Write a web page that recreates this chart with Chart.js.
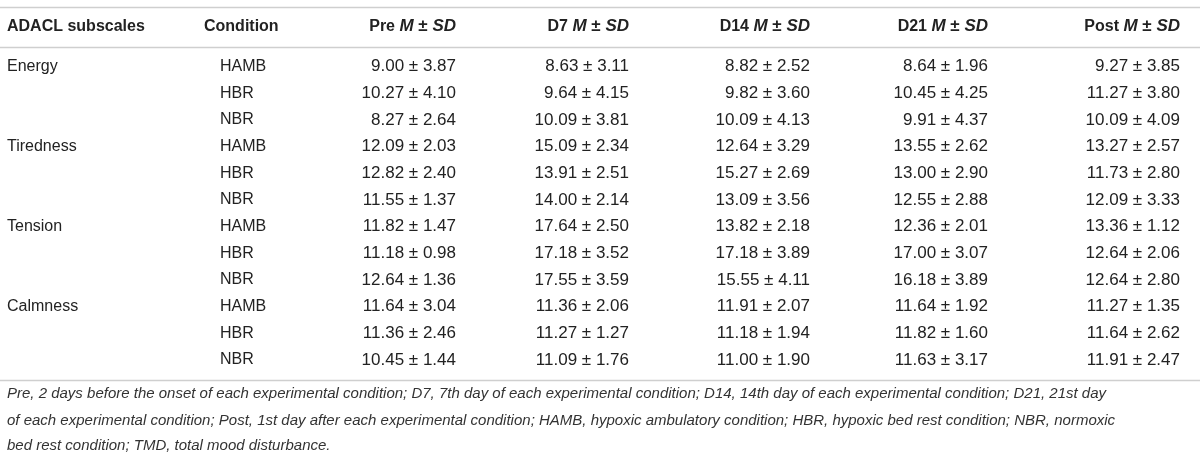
<!DOCTYPE html>
<html>
<head>
<meta charset="utf-8">
<script src="https://cdn.jsdelivr.net/npm/chart.js@4.4.1/dist/chart.umd.min.js"></script>
<style>
  html, body { margin: 0; padding: 0; background: #fff; }
  #wrap { width: 1200px; height: 452px; position: relative; }
</style>
</head>
<body>
<div id="wrap"><canvas id="tableChart"></canvas></div>
<script>
// table content
const subscales = ['Energy', 'Tiredness', 'Tension', 'Calmness'];
const conditions = ['HAMB', 'HBR', 'NBR'];
const timepoints = ['Pre', 'D7', 'D14', 'D21', 'Post'];

// rows: Energy HAMB/HBR/NBR, Tiredness ..., Tension ..., Calmness ...
const preMean  = [9.00, 10.27, 8.27, 12.09, 12.82, 11.55, 11.82, 11.18, 12.64, 11.64, 11.36, 10.45];
const preSD    = [3.87, 4.10, 2.64, 2.03, 2.40, 1.37, 1.47, 0.98, 1.36, 3.04, 2.46, 1.44];
const d7Mean   = [8.63, 9.64, 10.09, 15.09, 13.91, 14.00, 17.64, 17.18, 17.55, 11.36, 11.27, 11.09];
const d7SD     = [3.11, 4.15, 3.81, 2.34, 2.51, 2.14, 2.50, 3.52, 3.59, 2.06, 1.27, 1.76];
const d14Mean  = [8.82, 9.82, 10.09, 12.64, 15.27, 13.09, 13.82, 17.18, 15.55, 11.91, 11.18, 11.00];
const d14SD    = [2.52, 3.60, 4.13, 3.29, 2.69, 3.56, 2.18, 3.89, 4.11, 2.07, 1.94, 1.90];
const d21Mean  = [8.64, 10.45, 9.91, 13.55, 13.00, 12.55, 12.36, 17.00, 16.18, 11.64, 11.82, 11.63];
const d21SD    = [1.96, 4.25, 4.37, 2.62, 2.90, 2.88, 2.01, 3.07, 3.89, 1.92, 1.60, 3.17];
const postMean = [9.27, 11.27, 10.09, 13.27, 11.73, 12.09, 13.36, 12.64, 12.64, 11.27, 11.64, 11.91];
const postSD   = [3.85, 3.80, 4.09, 2.57, 2.80, 3.33, 1.12, 2.06, 2.80, 1.35, 2.62, 2.47];

const footnote = [
    'Pre, 2 days before the onset of each experimental condition; D7, 7th day of each experimental condition; D14, 14th day of each experimental condition; D21, 21st day',
    'of each experimental condition; Post, 1st day after each experimental condition; HAMB, hypoxic ambulatory condition; HBR, hypoxic bed rest condition; NBR, normoxic',
    'bed rest condition; TMD, total mood disturbance.'
];

// layout (x anchors in scale units, one per column)
const colAnchor = [7, 220, 456, 629, 810, 988, 1180];
const colAlign = ['left', 'left', 'right', 'right', 'right', 'right', 'right'];
const headerRow = -1.5;
const ruleRows = [-2.24, -0.74, 11.75];
const noteRows = [12.27, 13.27, 14.22];

const FONT = '"Liberation Sans", Arial, sans-serif';
const TEXT = '#222';
const RULE = '#cfcfcf';

const pm = ' \u00b1 ';
const meanCols = [preMean, d7Mean, d14Mean, d21Mean, postMean];
const sdCols = [preSD, d7SD, d14SD, d21SD, postSD];

let datasets = [];
// subscale names on the first row of each block
datasets.push({
    data: subscales.map((s, i) => ({ x: colAnchor[0], y: i * conditions.length })),
    labels: subscales,
    align: colAlign[0],
    font: '16px ' + FONT
});
// conditions
let condLabels = [];
subscales.forEach(() => conditions.forEach(c => condLabels.push(c)));
datasets.push({
    data: condLabels.map((c, i) => ({ x: colAnchor[1], y: i })),
    labels: condLabels,
    align: colAlign[1],
    font: '16px ' + FONT
});
// M ± SD cells
meanCols.forEach((means, k) => {
    datasets.push({
        data: means.map((m, i) => ({ x: colAnchor[k + 2], y: i })),
        labels: means.map((m, i) => m.toFixed(2) + pm + sdCols[k][i].toFixed(2)),
        align: colAlign[k + 2],
        font: '17px ' + FONT
    });
});

datasets.forEach(d => { d.pointRadius = 0; d.showLine = false; });

function drawSegments(ctx, segs, x, y, align) {
    let total = 0;
    segs.forEach(s => { ctx.font = s.font; total += ctx.measureText(s.text).width; });
    let cx = align === 'right' ? x - total : x;
    ctx.textAlign = 'left';
    segs.forEach(s => {
        ctx.font = s.font;
        ctx.fillText(s.text, cx, y);
        cx += ctx.measureText(s.text).width;
    });
}

const tablePlugin = {
    id: 'tableText',
    afterDatasetsDraw(chart) {
        const ctx = chart.ctx;
        const xs = chart.scales.x;
        const ys = chart.scales.y;
        ctx.save();

        // rules
        ctx.strokeStyle = RULE;
        ctx.lineWidth = 1.5;
        ruleRows.forEach(r => {
            const py = Math.round(ys.getPixelForValue(r)) + 0.5;
            ctx.beginPath();
            ctx.moveTo(xs.getPixelForValue(0), py);
            ctx.lineTo(xs.getPixelForValue(1200), py);
            ctx.stroke();
        });

        ctx.fillStyle = TEXT;
        ctx.textBaseline = 'middle';

        // header
        const hy = ys.getPixelForValue(headerRow);
        const bold = 'bold 16px ' + FONT;
        const boldPm = 'bold 17px ' + FONT;
        const boldIt = 'italic bold 17px ' + FONT;
        drawSegments(ctx, [{ text: 'ADACL subscales', font: bold }], xs.getPixelForValue(colAnchor[0]), hy, 'left');
        drawSegments(ctx, [{ text: 'Condition', font: bold }], xs.getPixelForValue(colAnchor[1] - 16), hy, 'left');
        timepoints.forEach((t, k) => {
            drawSegments(ctx, [
                { text: t + ' ', font: bold },
                { text: 'M', font: boldIt },
                { text: pm, font: boldPm },
                { text: 'SD', font: boldIt }
            ], xs.getPixelForValue(colAnchor[k + 2]), hy, 'right');
        });

        // body cells
        chart.data.datasets.forEach((ds, i) => {
            const meta = chart.getDatasetMeta(i);
            ctx.textAlign = ds.align;
            ctx.font = ds.font;
            meta.data.forEach((el, j) => {
                ctx.fillText(ds.labels[j], el.x, el.y);
            });
        });

        // footnote
        ctx.font = 'italic 15px ' + FONT;
        ctx.fillStyle = '#333';
        ctx.textAlign = 'left';
        footnote.forEach((line, i) => {
            ctx.fillText(line, xs.getPixelForValue(colAnchor[0]), ys.getPixelForValue(noteRows[i]));
        });
        ctx.restore();
    }
};

new Chart(document.getElementById('tableChart'), {
    type: 'scatter',
    data: { datasets: datasets },
    options: {
        responsive: true,
        maintainAspectRatio: false,
        animation: false,
        layout: { padding: 0 },
        plugins: {
            legend: { display: false },
            tooltip: { enabled: false }
        },
        scales: {
            x: { type: 'linear', display: false, min: 0, max: 1200 },
            y: { type: 'linear', display: false, reverse: true, min: -2.5, max: 14.45 }
        }
    },
    plugins: [tablePlugin]
});
</script>
</body>
</html>
